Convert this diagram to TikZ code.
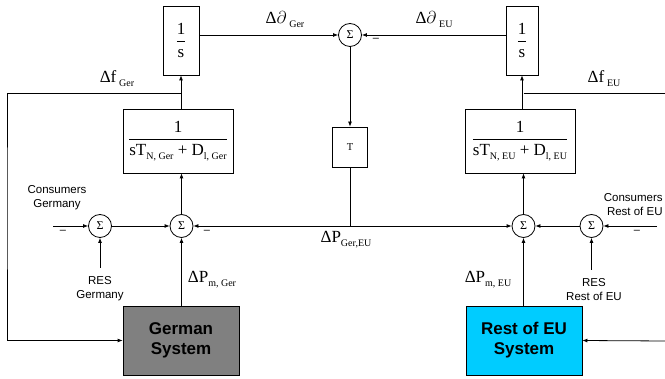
\documentclass[tikz,border=0pt]{standalone}
\usepackage{fontspec}
\setmainfont{Liberation Serif}
\setsansfont{Liberation Sans}
\usetikzlibrary{arrows.meta}
\newcommand\sbs[1]{\raisebox{-0.5ex}{\fontsize{10}{10}\selectfont #1}}
\definecolor{sysgray}{RGB}{128,128,128}
\definecolor{syscyan}{RGB}{0,204,255}
\begin{document}
\begin{tikzpicture}[x=1pt,y=-1pt,
  line width=0.8pt,
  arr/.style={-{Latex[length=5pt,width=4pt]}},
  blk/.style={draw, inner sep=0pt, font=\fontsize{17}{19}\selectfont},
  sumc/.style={draw, circle, minimum size=23pt, inner sep=0pt, font=\fontsize{12}{12}\selectfont},
  lbl/.style={font=\fontsize{17}{19}\selectfont, inner sep=0pt},
  slbl/.style={font=\sffamily\fontsize{11.5}{14}\selectfont, align=center, inner sep=0pt},
  neg/.style={font=\sffamily\fontsize{11}{11}\selectfont, inner sep=0pt},
  sys/.style={draw, minimum width=116pt, minimum height=69pt, inner sep=0pt, align=center,
    font=\sffamily\bfseries\fontsize{17}{20}\selectfont}
]
\useasboundingbox (0,0) rectangle (665,379);

% integrators
\node[blk, minimum width=36pt, minimum height=69pt] (sG) at (181,40.5) {$\displaystyle\frac{\mbox{1}}{\mbox{s}}$};
\node[blk, minimum width=32pt, minimum height=69pt] (sE) at (522,40.5) {$\displaystyle\frac{\mbox{1}}{\mbox{s}}$};

% transfer functions
\node[blk, minimum width=110pt, minimum height=64pt] (gG) at (178,141)
  {$\displaystyle\frac{\mbox{1}}{\mbox{sT\sbs{N, Ger} + D\sbs{l, Ger}}}$};
\node[blk, minimum width=110pt, minimum height=64pt] (gE) at (520,141)
  {$\displaystyle\frac{\mbox{1}}{\mbox{sT\sbs{N, EU} + D\sbs{l, EU}}}$};

% summing junctions
\node[sumc] (sumT) at (350,35) {Σ};
\node[sumc] (sumG1) at (100,226) {Σ};
\node[sumc] (sumG2) at (181.5,226) {Σ};
\node[sumc] (sumE2) at (523.5,226) {Σ};
\node[sumc] (sumE1) at (591.5,226) {Σ};

% T block
\node[draw, minimum width=35pt, minimum height=40pt, inner sep=0pt, font=\fontsize{10.5}{10.5}\selectfont] (Tb) at (350,147) {T};

% systems
\node[sys, fill=sysgray] (GS) at (181,340.5) {German\\System};
\node[sys, fill=syscyan] (ES) at (524,340.5) {Rest of EU\\System};

% coordinates
\coordinate (J) at (350,226);
\coordinate (fG) at (181.5,93);
\coordinate (fE) at (523.5,93);
\coordinate (lc) at (7,200);
\coordinate (rt1) at (665,93);
\coordinate (rt2) at (665,341);
\coordinate (cG) at (53,226);
\coordinate (cE) at (657,226);
\coordinate (rG) at (100,268);
\coordinate (rE) at (591.5,270);

% connectors
\draw[arr] (sG.east |- sumT) -- (sumT);
\draw[arr] (sE.west |- sumT) -- (sumT);
\draw[arr] (sumT) -- (Tb);
\draw (Tb) -- (J);
\draw[arr] (J) -- (sumG2);
\draw[arr] (J) -- (sumE2);

\draw[arr] (sG.south |- gG.north) -- (sG.south);
\draw[arr] (sE.south |- gE.north) -- (sE.south);
\draw[arr] (sumG2) -- (sumG2 |- gG.south);
\draw[arr] (sumE2) -- (sumE2 |- gE.south);

\draw[arr] (fG) -| (lc) |- (GS.west);
\draw (fE) -- (rt1);
\draw[arr] (rt2) -- (ES.east);

\draw[arr] (cG) -- (sumG1);
\draw[arr] (sumG1) -- (sumG2);
\draw[arr] (rG) -- (sumG1);
\draw[arr] (GS.north -| sumG2) -- (sumG2);

\draw[arr] (cE) -- (sumE1);
\draw[arr] (sumE1) -- (sumE2);
\draw[arr] (rE) -- (sumE1);
\draw[arr] (ES.north -| sumE2) -- (sumE2);

% labels
\node[lbl] (lDdG) at (285,20) {Δ$\partial$\,\sbs{Ger}};
\node[lbl] (lDdE) at (434,20) {Δ$\partial$\,\sbs{EU}};
\node[lbl] (lfG) at (117,79) {Δf\,\sbs{Ger}};
\node[lbl] (lfE) at (604,79) {Δf\,\sbs{EU}};
\node[lbl] (lPGE) at (346,240) {ΔP\sbs{Ger,EU}};
\node[lbl] (lPmG) at (212,280) {ΔP\sbs{m, Ger}};
\node[lbl] (lPmE) at (488,280) {ΔP\sbs{m, EU}};

\node[neg] (n1) at (376,40) {–};
\node[neg] (n2) at (63,232) {–};
\node[neg] (n3) at (207,232) {–};
\node[neg] (n4) at (637,232) {–};

\node[slbl] (lcG) at (57,198) {Consumers\\Germany};
\node[slbl, align=right, anchor=east] (lcE) at (663,205) {Consumers\\Rest of EU};
\node[slbl] (lrG) at (100,289) {RES\\Germany};
\node[slbl] (lrE) at (594,290) {RES\\Rest of EU};
\end{tikzpicture}
\end{document}
